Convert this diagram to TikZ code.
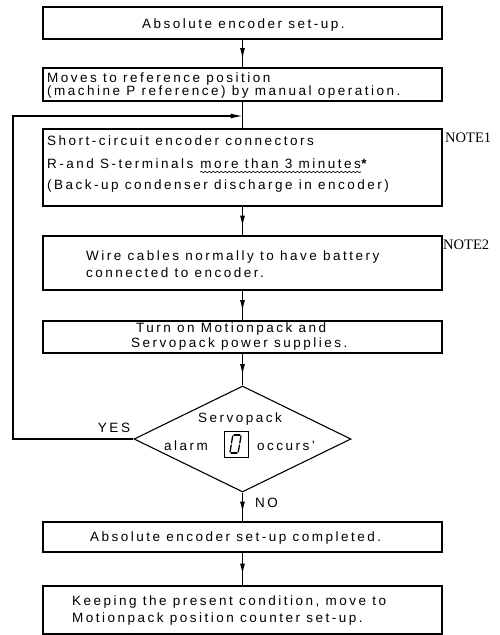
\documentclass[tikz,border=0pt]{standalone}
\usepackage{fontspec}
\usetikzlibrary{shapes.geometric,arrows.meta,decorations.markings,decorations.pathmorphing}
\newfontfamily\flowfont[LetterSpace=18.5]{Liberation Sans}
\newfontfamily\notefont{Liberation Serif}

\begin{document}
\begin{tikzpicture}[x=1pt,y=-1pt]
    \pgfmathsetmacro{\midx}{242.5}
    \pgfmathsetmacro{\boxw}{399}
    \tikzset{
        every node/.style={inner sep=0pt},
        line/.style={line width=1.1pt},
        stepbox/.style={draw,rectangle,line width=1.1pt,minimum width=\boxw pt},
        decision/.style={draw,diamond,line width=1.1pt,minimum width=217pt,minimum height=106pt},
        flow/.style={line,postaction={decorate},decoration={markings,
            mark=at position 0.5 with {\arrow[xshift=5.5pt]{Latex[length=11pt,width=5pt]}}}},
        txt/.style={anchor=base west,font=\flowfont\fontsize{13.5}{16}\selectfont},
        note/.style={anchor=base west,font=\notefont\fontsize{14.5}{16}\selectfont},
        segment/.style={line width=1.3pt,line cap=round},
        wave/.style={line width=0.6pt,decorate,decoration={snake,amplitude=0.8pt,segment length=4pt}}
    }
    \useasboundingbox (0,0) rectangle (500,635);
    % boxes along the main line
    \node[stepbox,minimum height=32pt] (setup) at (\midx,23) {};
    \node[stepbox,minimum height=33pt] (refpos) at (\midx,84.5) {};
    \node[stepbox,minimum height=77pt] (discharge) at (\midx,167.5) {};
    \node[stepbox,minimum height=54pt] (battery) at (\midx,263) {};
    \node[stepbox,minimum height=32pt] (power) at (\midx,337) {};
    \node[decision] (alarm) at (\midx,439) {};
    \node[stepbox,minimum height=30pt] (done) at (\midx,537) {};
    \node[stepbox,minimum height=48pt] (counter) at (\midx,610) {};
    % texts
    \node[txt] (setupText) at (142,28) {Absolute encoder set-up.};
    \node[txt] (refposA) at (47,82) {Moves to reference position};
    \node[txt] (refposB) at (47,95) {(machine P reference) by manual operation.};
    \node[txt] (dischargeA) at (47,145) {Short-circuit encoder connectors};
    \node[txt] (dischargeB) at (47,168) {R-and S-terminals};
    \node[txt] (dischargeWave) at ([xshift=6.5pt]dischargeB.base east) {more than 3 minutes};
    \node[txt] (dischargeStar) at (dischargeWave.base east) {\textbf{*}};
    \node[txt] (dischargeC) at (47,189) {(Back-up condenser discharge in encoder)};
    \node[note] (noteOne) at (445,142) {NOTE1};
    \node[txt] (batteryA) at (86,260) {Wire cables normally to have battery};
    \node[txt] (batteryB) at (86,277) {connected to encoder.};
    \node[note] (noteTwo) at (443,249) {NOTE2};
    \node[txt] (powerA) at (136,332) {Turn on Motionpack and};
    \node[txt] (powerB) at (131,347) {Servopack power supplies.};
    \node[txt,anchor=base] (alarmA) at (240,422) {Servopack};
    \node[txt,anchor=base east] (alarmB) at (208,450) {alarm};
    \node[draw,line width=1pt,minimum width=24pt,minimum height=26pt] (segBox) at (236,444) {};
    \node[txt] (alarmC) at (257,450) {occurs’};
    \node[txt,anchor=base] (yesLabel) at (114,432) {YES};
    \node[txt] (noLabel) at (255,507) {NO};
    \node[txt] (doneText) at (90,541) {Absolute encoder set-up completed.};
    \node[txt] (counterA) at (72,605) {Keeping the present condition, move to};
    \node[txt] (counterB) at (72,622) {Motionpack position counter set-up.};
    \draw[wave] ([yshift=-4pt]dischargeWave.base west) -- ([yshift=-4pt]dischargeWave.base east);
    % seven segment zero
    \begin{scope}[shift={(segBox.center)}]
        \draw[segment] (-2,-9) -- (4,-9);
        \draw[segment] (5,-8) -- (3.8,-1);
        \draw[segment] (3.5,1) -- (2.2,8);
        \draw[segment] (1,9) -- (-5,9);
        \draw[segment] (-6,8) -- (-4.8,1);
        \draw[segment] (-4.5,-1) -- (-3.3,-8);
    \end{scope}
    % connectors
    \coordinate (loopJoin) at (\midx,116);
    \coordinate (loopCorner) at (13,116);
    \coordinate (yesCorner) at (13,439);
    \draw[flow] (setup) -- (refpos);
    \draw[line] (refpos) -- (discharge);
    \draw[flow] (discharge) -- (battery);
    \draw[flow] (battery) -- (power);
    \draw[flow] (power) -- (alarm);
    \draw[flow] (alarm) -- (done);
    \draw[flow] (done) -- (counter);
    \draw[line,-{Latex[length=12pt,width=5pt]}] (alarm.west) -- (yesCorner) -- (loopCorner) -- (loopJoin);
\end{tikzpicture}
\end{document}
